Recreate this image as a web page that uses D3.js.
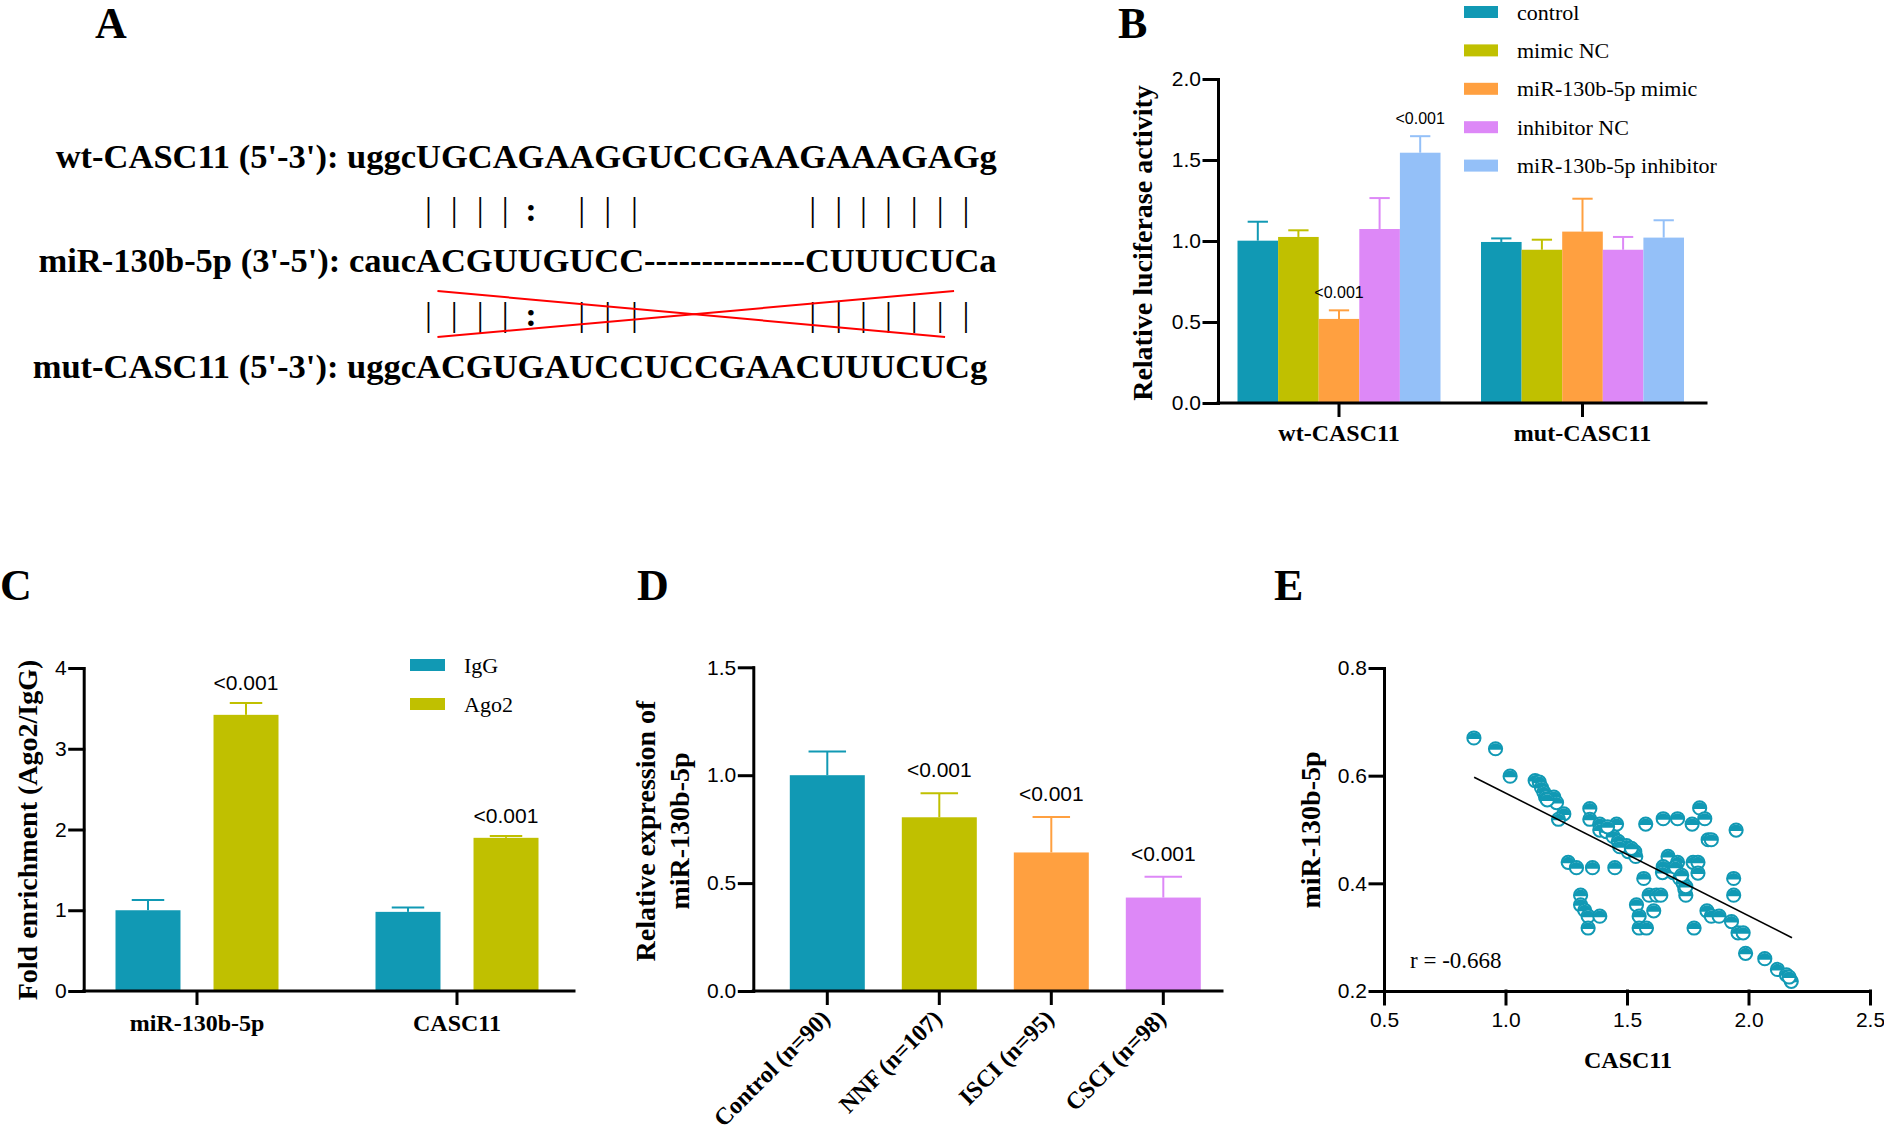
<!DOCTYPE html>
<html lang="en">
<head>
<meta charset="UTF-8">
<title>CASC11 / miR-130b-5p</title>
<script src="https://d3js.org/d3.v7.min.js"></script>
<style>
    body { margin: 0; background: #fff; }
    svg { display: block; }
    .axis path, .axis line { stroke: #000; stroke-width: 3px; stroke-linecap: square; }
    .axis text { font-family: "Liberation Sans", Arial, sans-serif; font-size: 21px; fill: #000; }
</style>
</head>
<body>
<svg id="fig"></svg>
<script>
// ---- panel A: sequence alignment
const seqNames = ["wt-CASC11 (5'-3'): ", "miR-130b-5p (3'-5'): ", "mut-CASC11 (5'-3'): "];
const seqHead = ["uggc", "cauc", "uggc"];
const seqCore = ["UGCAGAAGGUCCGAAGAAAGAG", "ACGUUGUCC--------------CUUUCUC", "ACGUGAUCCUCCGAACUUUCUC"];
const seqTail = ["g", "a", "g"];
const pairing = "||||: |||      |||||||";

// ---- panel B: luciferase reporter
const lucGroups = ["wt-CASC11", "mut-CASC11"];
const lucSeries = ["control", "mimic NC", "miR-130b-5p mimic", "inhibitor NC", "miR-130b-5p inhibitor"];
const lucMean = [[1.002, 1.025, 0.519, 1.074, 1.545], [0.994, 0.946, 1.058, 0.946, 1.021]];
const lucSD = [[0.117, 0.041, 0.053, 0.191, 0.102], [0.022, 0.062, 0.203, 0.079, 0.107]];
const lucP = [["", "", "<0.001", "", "<0.001"], ["", "", "", "", ""]];
const lucTicks = [0, 0.5, 1.0, 1.5, 2.0];

// ---- panel C: RIP assay
const ripGroups = ["miR-130b-5p", "CASC11"];
const ripSeries = ["IgG", "Ago2"];
const ripMean = [[1.0, 3.42], [0.98, 1.897]];
const ripSD = [[0.128, 0.146], [0.053, 0.023]];
const ripP = [["", "<0.001"], ["", "<0.001"]];
const ripTicks = [0, 1, 2, 3, 4];

// ---- panel D: serum expression
const exprGroups = ["Control (n=90)", "NNF (n=107)", "ISCI (n=95)", "CSCI (n=98)"];
const exprMean = [1.0, 0.805, 0.642, 0.433];
const exprSD = [0.11, 0.111, 0.164, 0.096];
const exprP = ["", "<0.001", "<0.001", "<0.001"];
const exprTicks = [0, 0.5, 1.0, 1.5];

// ---- panel E: correlation
const casc11 = [0.870, 0.959, 1.019, 1.122, 1.139, 1.148, 1.158, 1.165, 1.199, 1.210,
                1.240, 1.218, 1.347, 1.347, 1.388, 1.388, 1.415, 1.457, 1.443, 1.464,
                1.498, 1.505, 1.532, 1.536, 1.258, 1.292, 1.358, 1.450, 1.577, 1.649,
                1.708, 1.768, 1.799, 1.820, 1.834, 1.847, 1.949, 1.669, 1.649, 1.646,
                1.708, 1.772, 1.792, 1.792, 1.690, 1.717, 1.731, 1.738, 1.742, 1.569,
                1.591, 1.621, 1.639, 1.610, 1.539, 1.550, 1.550, 1.580, 1.776, 1.309,
                1.309, 1.326, 1.340, 1.388, 1.340, 1.939, 1.939, 1.829, 1.847, 1.879,
                1.930, 1.957, 1.978, 1.988, 2.067, 2.119, 2.156, 2.176, 2.167, 1.470,
                1.518, 1.742, 1.700, 1.725, 1.172, 1.420];
const mir130b = [0.670, 0.650, 0.599, 0.591, 0.588, 0.578, 0.569, 0.560, 0.560, 0.550,
                 0.529, 0.519, 0.539, 0.519, 0.510, 0.499, 0.496, 0.510, 0.487, 0.478,
                 0.470, 0.459, 0.459, 0.450, 0.439, 0.429, 0.429, 0.429, 0.510, 0.520,
                 0.520, 0.510, 0.540, 0.520, 0.481, 0.481, 0.499, 0.450, 0.431, 0.420,
                 0.439, 0.439, 0.439, 0.419, 0.420, 0.409, 0.400, 0.389, 0.378, 0.409,
                 0.378, 0.378, 0.378, 0.349, 0.360, 0.339, 0.317, 0.317, 0.317, 0.378,
                 0.360, 0.350, 0.339, 0.339, 0.317, 0.409, 0.378, 0.349, 0.339, 0.339,
                 0.329, 0.308, 0.308, 0.270, 0.260, 0.240, 0.230, 0.218, 0.226, 0.468,
                 0.465, 0.394, 0.430, 0.415, 0.555, 0.505];
const fitX = [0.871, 2.179];
const fitY = [0.597, 0.299];
const corrLabel = "r = -0.668";
const eTicksX = [0.5, 1.0, 1.5, 2.0, 2.5];
const eTicksY = [0.2, 0.4, 0.6, 0.8];

const palette = ["#1199B4", "#C0C000", "#FFA040", "#DD88F7", "#94C0F8"];
const SERIF = '"Liberation Serif", "Times New Roman", serif';
const SANS = '"Liberation Sans", Arial, sans-serif';

const svg = d3.select("#fig").attr("width", 1884).attr("height", 1134);

function label(g, txt, x, y, size, opts = {}) {
    return g.append("text")
        .attr("x", x).attr("y", y)
        .attr("font-family", opts.sans ? SANS : SERIF)
        .attr("font-weight", opts.bold === false ? "normal" : "bold")
        .attr("font-size", size)
        .attr("text-anchor", opts.anchor || "start")
        .attr("transform", opts.rotate ? `rotate(${opts.rotate},${x},${y})` : null)
        .text(txt);
}

// panel letters
[["A", 95, 38], ["B", 1118, 38], ["C", 0, 600], ["D", 637, 600], ["E", 1274, 600]]
    .forEach(([t, x, y]) => label(svg, t, x, y, 44));

// ================= A =================
const gA = svg.append("g");
const seqBase = [168, 272, 378];
const pipeBase = [220.5, 325.5];
const coreX = 416;
const seqNodes = seqNames.map((nm, i) => {
    const t = label(gA, nm + seqHead[i] + seqCore[i] + seqTail[i], 0, seqBase[i], 34.5);
    const pre = t.node().getSubStringLength(0, (nm + seqHead[i]).length);
    t.attr("x", coreX - pre);
    return t.node();
});
const wtOffset = (seqNames[0] + seqHead[0]).length;
const charCx = k => {
    const e = seqNodes[0].getExtentOfChar(wtOffset + k);
    return e.x + e.width / 2;
};
const pairs = pairing.split("").map((c, k) => ({c, x: charCx(k)})).filter(d => d.c !== " ");
pipeBase.forEach(b => {
    gA.selectAll(null).data(pairs).join("text")
        .attr("x", d => d.x).attr("y", b)
        .attr("text-anchor", "middle")
        .attr("font-family", SERIF)
        .attr("font-weight", d => d.c === ":" ? "bold" : "normal")
        .attr("font-size", 34.5)
        .text(d => d.c);
});
{
    const xl = charCx(0) + 9, xr = charCx(seqCore[0].length - 1);
    const yt = pipeBase[1] - 34.5, yb = pipeBase[1] + 11.5;
    gA.append("line").attr("x1", xl).attr("y1", yt).attr("x2", xr - 21).attr("y2", yb)
        .attr("stroke", "#FF0000").attr("stroke-width", 2);
    gA.append("line").attr("x1", xl).attr("y1", yb).attr("x2", xr - 12).attr("y2", yt)
        .attr("stroke", "#FF0000").attr("stroke-width", 2);
}

// ================= grouped bar helper =================
function barPanel(o) {
    const g = svg.append("g");
    const y = d3.scaleLinear().domain(o.yDomain).range([o.yBottom, o.yTop]);
    const x = d3.scaleBand().domain(o.groups).range(o.xRange);
    const xi = d3.scaleBand().domain(d3.range(o.mean[0].length)).range(o.innerRange).paddingInner(o.innerPad || 0);
    const bw = xi.bandwidth();
    const rows = [];
    o.groups.forEach((grp, gi) => o.mean[gi].forEach((m, si) => rows.push({
        cx: x(grp) + x.bandwidth() / 2 + xi(si) + bw / 2,
        m, sd: o.sd[gi][si], p: o.p[gi][si], color: o.color(gi, si)
    })));

    g.selectAll("rect").data(rows).join("rect")
        .attr("x", d => d.cx - bw / 2).attr("y", d => y(d.m))
        .attr("width", bw).attr("height", d => y(0) - y(d.m))
        .attr("fill", d => d.color);

    const eb = g.selectAll("g.err").data(rows).join("g").attr("class", "err")
        .attr("stroke", d => d.color).attr("stroke-width", 2);
    eb.append("line").attr("x1", d => d.cx).attr("x2", d => d.cx)
        .attr("y1", d => y(d.m)).attr("y2", d => y(d.m + d.sd));
    eb.append("line").attr("x1", d => d.cx - bw / 4).attr("x2", d => d.cx + bw / 4)
        .attr("y1", d => y(d.m + d.sd)).attr("y2", d => y(d.m + d.sd));

    g.selectAll("text.p").data(rows.filter(d => d.p)).join("text").attr("class", "p")
        .attr("x", d => d.cx).attr("y", d => y(d.m + d.sd) - o.pGap)
        .attr("text-anchor", "middle").attr("font-family", SANS).attr("font-size", o.pSize)
        .text(d => d.p);

    g.append("g").attr("class", "axis").attr("transform", `translate(${o.axisX},0)`)
        .call(d3.axisLeft(y).tickValues(o.ticks).tickFormat(d3.format(o.fmt))
            .tickSize(14).tickPadding(3).tickSizeOuter(0));

    g.append("line").attr("x1", o.axisX).attr("x2", o.axisEnd)
        .attr("y1", y(0)).attr("y2", y(0))
        .attr("stroke", "#000").attr("stroke-width", 3).attr("stroke-linecap", "square");
    g.selectAll("line.xt").data(o.groups).join("line").attr("class", "xt")
        .attr("x1", d => x(d) + x.bandwidth() / 2).attr("x2", d => x(d) + x.bandwidth() / 2)
        .attr("y1", y(0)).attr("y2", y(0) + 14)
        .attr("stroke", "#000").attr("stroke-width", 3);
    return {g, x, y};
}

// ================= B =================
const B = barPanel({
    groups: lucGroups, mean: lucMean, sd: lucSD, p: lucP,
    yDomain: [0, 2], yBottom: 403, yTop: 79, ticks: lucTicks, fmt: ".1f",
    xRange: [1217.25, 1704.25], innerRange: [-101.5, 101.5],
    axisX: 1218, axisEnd: 1706, pGap: 12, pSize: 16,
    color: (gi, si) => palette[si]
});
lucGroups.forEach(grp => label(B.g, grp, B.x(grp) + B.x.bandwidth() / 2, 441, 24, {anchor: "middle"}));
label(B.g, "Relative luciferase activity", 1152, 243, 28, {anchor: "middle", rotate: -90});
lucSeries.forEach((s, i) => {
    const cy = 12 + i * 38.4;
    B.g.append("rect").attr("x", 1464).attr("y", cy - 6).attr("width", 34).attr("height", 12).attr("fill", palette[i]);
    label(B.g, s, 1517, cy + 7.5, 22, {bold: false});
});

// ================= C =================
const C = barPanel({
    groups: ripGroups, mean: ripMean, sd: ripSD, p: ripP,
    yDomain: [0, 4], yBottom: 991, yTop: 668, ticks: ripTicks, fmt: "d",
    xRange: [67, 587], innerRange: [-81.5, 81.5], innerPad: 0.337,
    axisX: 83.7, axisEnd: 574, pGap: 13, pSize: 21,
    color: (gi, si) => palette[si]
});
ripGroups.forEach(grp => label(C.g, grp, C.x(grp) + C.x.bandwidth() / 2, 1031, 24, {anchor: "middle"}));
label(C.g, "Fold enrichment (Ago2/IgG)", 37, 830, 28, {anchor: "middle", rotate: -90});
ripSeries.forEach((s, i) => {
    const cy = 665 + i * 39;
    C.g.append("rect").attr("x", 410).attr("y", cy - 6).attr("width", 35).attr("height", 12).attr("fill", palette[i]);
    label(C.g, s, 464, cy + 7.5, 22, {bold: false});
});

// ================= D =================
const D = barPanel({
    groups: exprGroups, mean: exprMean.map(v => [v]), sd: exprSD.map(v => [v]), p: exprP.map(v => [v]),
    yDomain: [0, 1.5], yBottom: 991, yTop: 667.3, ticks: exprTicks, fmt: ".1f",
    xRange: [771.3, 1219.3], innerRange: [-37.5, 37.5],
    axisX: 753.3, axisEnd: 1222, pGap: 16, pSize: 21,
    color: (gi) => palette[gi]
});
exprGroups.forEach(grp => {
    const cx = D.x(grp) + D.x.bandwidth() / 2;
    label(D.g, grp, cx + 4, 1020, 24, {anchor: "end", rotate: -45});
});
label(D.g, "Relative expression of", 655, 831, 28, {anchor: "middle", rotate: -90});
label(D.g, "miR-130b-5p", 689, 831, 28, {anchor: "middle", rotate: -90});

// ================= E =================
const gE = svg.append("g");
const xE = d3.scaleLinear().domain([0.5, 2.5]).range([1384, 1870]);
const yE = d3.scaleLinear().domain([0.2, 0.8]).range([991, 668]);
const half = d3.arc().innerRadius(0).outerRadius(6.6).startAngle(-Math.PI / 2).endAngle(Math.PI / 2);

const pts = gE.selectAll("g.pt").data(casc11.map((v, i) => [v, mir130b[i]])).join("g")
    .attr("class", "pt").attr("transform", d => `translate(${xE(d[0])},${yE(d[1])})`);
pts.append("circle").attr("r", 6.6).attr("fill", "#fff").attr("stroke", palette[0]).attr("stroke-width", 2);
pts.append("path").attr("d", half).attr("transform", "translate(0,1)").attr("fill", palette[0]);

gE.append("path").datum(fitX.map((v, i) => [v, fitY[i]]))
    .attr("d", d3.line().x(d => xE(d[0])).y(d => yE(d[1])))
    .attr("stroke", "#000").attr("stroke-width", 1.6).attr("fill", "none");

gE.append("g").attr("class", "axis").attr("transform", "translate(1384,0)")
    .call(d3.axisLeft(yE).tickValues(eTicksY).tickFormat(d3.format(".1f")).tickSize(14).tickPadding(3).tickSizeOuter(0));
gE.append("g").attr("class", "axis").attr("transform", "translate(0,991)")
    .call(d3.axisBottom(xE).tickValues(eTicksX).tickFormat(d3.format(".1f")).tickSize(13).tickPadding(8).tickSizeOuter(0));

label(gE, corrLabel, 1410, 968, 23, {bold: false});
label(gE, "CASC11", 1628, 1068, 24, {anchor: "middle"});
label(gE, "miR-130b-5p", 1320, 830, 28, {anchor: "middle", rotate: -90});

// d3 axes set their own font; restore ours
svg.selectAll(".axis").attr("font-family", SANS).attr("font-size", 21);
</script>
</body>
</html>
